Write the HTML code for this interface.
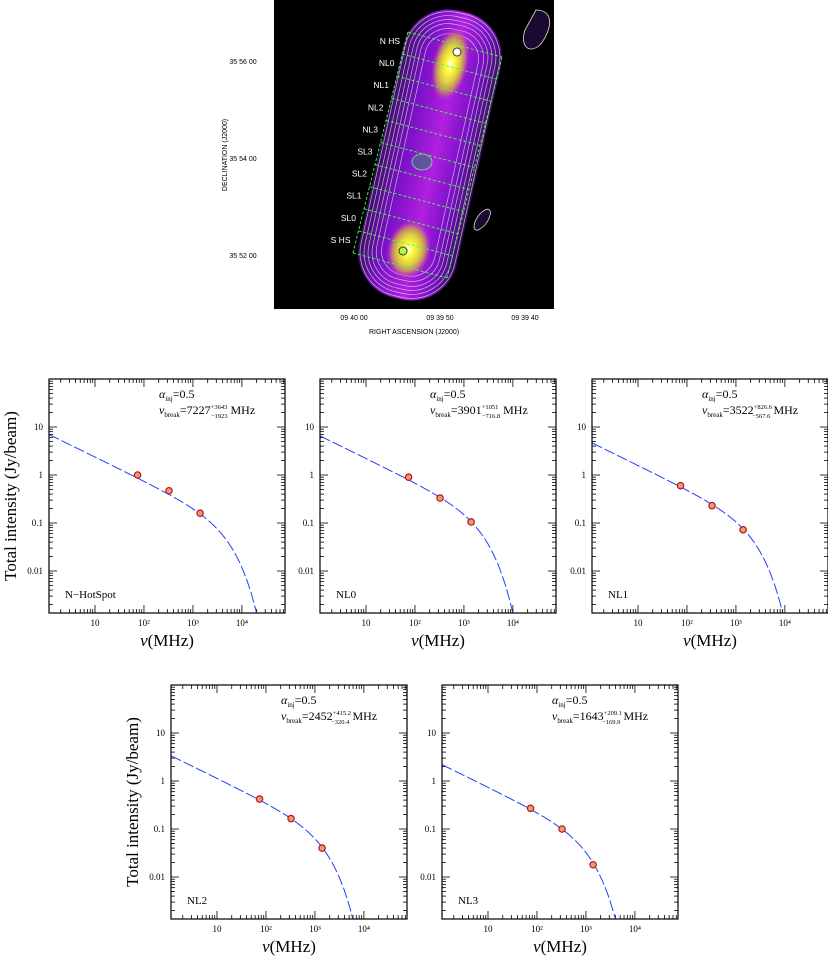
<!DOCTYPE html>
<html><head><meta charset="utf-8"><style>
body{margin:0;background:#fff;width:828px;height:956px;overflow:hidden}
svg{position:absolute;left:0;top:0}
.s{font-family:"Liberation Serif",serif}
.a{font-family:"Liberation Sans",sans-serif}
</style></head><body>
<svg id="fig" width="828" height="956">
<defs>
<linearGradient id="bg" x1="0" y1="0" x2="1" y2="0">
<stop offset="0" stop-color="#3a1060"/><stop offset="0.25" stop-color="#7a10c8"/><stop offset="0.55" stop-color="#b020e0"/><stop offset="0.8" stop-color="#7a10c8"/><stop offset="1" stop-color="#3a1060"/>
</linearGradient>
<radialGradient id="hs"><stop offset="0" stop-color="#fff"/><stop offset="0.2" stop-color="#ffff40"/><stop offset="0.5" stop-color="#e0d040"/><stop offset="0.75" stop-color="#c08070"/><stop offset="1" stop-color="#c020e0" stop-opacity="0"/></radialGradient>
</defs>
<g>
<rect x="274" y="0" width="280" height="309" fill="#000"/>
<g transform="rotate(12.6 430 155)">
<rect x="380" y="8" width="100" height="294" rx="46" fill="url(#bg)"/>
<g fill="none" stroke="#ddd" stroke-width="0.7" opacity="0.8">
<rect x="382" y="10" width="96" height="290" rx="44"/><rect x="386" y="14" width="88" height="282" rx="40"/><rect x="390" y="18" width="80" height="274" rx="36"/><rect x="394" y="22" width="72" height="266" rx="32"/><rect x="398" y="27" width="64" height="256" rx="28"/><rect x="403" y="32" width="54" height="246" rx="24"/>
</g>
<ellipse cx="430" cy="62" rx="18" ry="38" fill="url(#hs)"/>
<ellipse cx="430" cy="252" rx="22" ry="30" fill="url(#hs)"/>
</g>
<circle cx="457" cy="52" r="4" fill="#fff" stroke="#333"/>
<circle cx="403" cy="251" r="4" fill="#b0ff40" stroke="#333"/>
<ellipse cx="422" cy="162" rx="10" ry="8" fill="#4a6a8a" opacity="0.7" stroke="#8f8"/>
<path d="M536 10 C555 10 552 30 540 45 C528 55 520 45 525 30 Z" fill="#1a0a30" stroke="#ddd" stroke-width="0.8"/>
<path d="M485 210 C495 205 490 225 478 230 C470 232 475 215 485 210 Z" fill="#1a0a30" stroke="#ddd" stroke-width="0.8"/>
<g id="slices" stroke="#40ff40" stroke-width="0.9" stroke-dasharray="3 2" fill="none"></g>
<g id="slicelabels" class="a" font-size="8.5" fill="#fff" text-anchor="end"></g>
</g>
<g class="a" font-size="7" fill="#000">
<text x="243" y="64" text-anchor="middle">35 56 00</text>
<text x="243" y="161" text-anchor="middle">35 54 00</text>
<text x="243" y="258" text-anchor="middle">35 52 00</text>
<text transform="translate(227 155) rotate(-90)" text-anchor="middle">DECLINATION (J2000)</text>
<text x="354" y="320" text-anchor="middle">09 40 00</text>
<text x="440" y="320" text-anchor="middle">09 39 50</text>
<text x="525" y="320" text-anchor="middle">09 39 40</text>
<text x="414" y="334" text-anchor="middle">RIGHT ASCENSION (J2000)</text>
</g>
<g id="panels"></g>
</svg>
<script>
// Chart data
const regionNames = ["N\u2212HotSpot","NL0","NL1","NL2","NL3"];
const breakVals = ["7227","3901","3522","2452","1643"];
const breakPlus = ["+3643","+1051","+826.6","+415.2","+209.1"];
const breakMinus = ["\u22121923","\u2212716.8","\u2212567.6","\u2212320.4","\u2212169.9"];
const freqs = [74, 325, 1400];
const fluxNHS = [1.0, 0.47, 0.16];
const fluxNL0 = [0.9, 0.33, 0.105];
const fluxNL1 = [0.6, 0.23, 0.072];
const fluxNL2 = [0.42, 0.165, 0.04];
const fluxNL3 = [0.27, 0.10, 0.018];
const modelAmp = [7.5, 7.0, 5.0, 3.6, 2.35];
const modelCut = [5400, 2500, 2450, 1670, 1200];
const xTickVals = [10, 100, 1000, 10000];
const xTickLabels = ["10","10\u00B2","10\u00B3","10\u2074"];
const yTickVals = [10, 1, 0.1, 0.01];
const yTickLabels = ["10","1","0.1","0.01"];
const sliceLabels = ["N HS","NL0","NL1","NL2","NL3","SL3","SL2","SL1","SL0","S HS"];

const fluxes=[fluxNHS,fluxNL0,fluxNL1,fluxNL2,fluxNL3];
const NS="http://www.w3.org/2000/svg";
function mk(t,at,p){const e=document.createElementNS(NS,t);for(const k in at)e.setAttribute(k,at[k]);p.appendChild(e);return e;}

const sg=document.getElementById('slices'), sl=document.getElementById('slicelabels');
for(let i=0;i<=10;i++){
  const x=408-5.5*i,y=32+22.1*i;
  const ln=mk('line',{x1:x,y1:y,x2:x+94,y2:y+25},sg);
  
  
}
mk('line',{x1:408,y1:32,x2:353,y2:253},sg);
mk('line',{x1:502,y1:57,x2:447,y2:278},sg);
sliceLabels.forEach((s,i)=>{
  const t=mk('text',{x:400-5.5*i,y:44+22.1*i},sl);t.textContent=s;
  
  
});

const pos=[[49,379],[320,379],[592,379],[171,685],[442,685]];
const W=236,H=234, XL=Math.log10(1.15), XR=4.88, YT=2, YB=-2.875;
const root=document.getElementById('panels');
pos.forEach((p,i)=>{
  const g=mk('g',{transform:`translate(${p[0]},${p[1]})`},root);
  
  
  const X=v=>(Math.log10(v)-XL)/(XR-XL)*W;
  const Y=v=>(YT-Math.log10(v))/(YT-YB)*H;
  const tk=mk('g',{stroke:'#000','stroke-width':0.8},g);
  for(let d=0;d<=4;d++)for(let m=1;m<10;m++){
    const v=m*Math.pow(10,d);if(Math.log10(v)<XL||Math.log10(v)>XR)continue;
    const x=X(v),L=m==1?8:4;
    mk('line',{x1:x,y1:H,x2:x,y2:H-L},tk);mk('line',{x1:x,y1:0,x2:x,y2:L},tk);
  }
  for(let d=-3;d<=1;d++)for(let m=1;m<10;m++){
    const v=m*Math.pow(10,d);const lv=Math.log10(v);if(lv<YB||lv>YT)continue;
    const y=Y(v),L=m==1?8:4;
    mk('line',{x1:0,y1:y,x2:L,y2:y},tk);mk('line',{x1:W,y1:y,x2:W-L,y2:y},tk);
  }
  let d='';
  for(let k=0;k<=400;k++){
    const lv=XL+(XR-XL)*k/400, v=Math.pow(10,lv);
    const s=modelAmp[i]*Math.pow(v,-0.5)*Math.exp(-v/modelCut[i]);
    if(Math.log10(s)<YB){d+=`L${X(v).toFixed(1)},${H}`;break;}
    d+=(k?'L':'M')+X(v).toFixed(1)+','+Y(s).toFixed(1);
  }
  const c=mk('path',{d:d,fill:'none',stroke:'#2040ff','stroke-width':1,'stroke-dasharray':'11 3'},g);
  
  
  freqs.forEach((f,j)=>{
    const pt=mk('circle',{cx:X(f),cy:Y(fluxes[i][j]),r:3.2,fill:'#e0a070',stroke:'#c01020','stroke-width':1.2},g);
    
    
  });
  mk('rect',{x:0,y:0,width:W,height:H,fill:'none',stroke:'#000','stroke-width':1.2},g);
  const tl=mk('g',{class:'s','font-size':9,'text-anchor':'middle'},g);
  xTickVals.forEach((v,j)=>{const t=mk('text',{x:X(v),y:H+13},tl);t.textContent=xTickLabels[j];});
  yTickVals.forEach((v,j)=>{const t=mk('text',{x:-6,y:Y(v)+3,'text-anchor':'end'},tl);t.textContent=yTickLabels[j];});
  const xl=mk('text',{x:W/2,y:H+33,class:'s','font-size':17,'text-anchor':'middle'},g);
  xl.innerHTML='<tspan font-style="italic">\u03BD</tspan>(MHz)';
  
  
  if(i==0||i==3){
    const yl=mk('text',{transform:`translate(-33 ${H/2}) rotate(-90)`,class:'s','font-size':17,'text-anchor':'middle'},g);
    yl.textContent='Total intensity (Jy/beam)';
    
    
  }
  const a=mk('text',{x:110,y:19,class:'s','font-size':12},g);
  a.innerHTML='<tspan font-style="italic">\u03B1</tspan><tspan font-size="7" dy="3">inj</tspan><tspan dy="-3">=0.5</tspan>';
  
  
  const b=mk('text',{x:110,y:35,class:'s','font-size':12},g);
  b.innerHTML=`<tspan font-style="italic">\u03BD</tspan><tspan font-size="7" dy="3">break</tspan><tspan dy="-3">=${breakVals[i]}</tspan><tspan font-size="6.5" dy="-5">${breakPlus[i]}</tspan><tspan font-size="6.5" dx="-${(breakPlus[i].length*3.3).toFixed(1)}" dy="9">${breakMinus[i]}</tspan><tspan dy="-4"> MHz</tspan>`;
  
  
  const n=mk('text',{x:16,y:H-15,class:'s','font-size':11},g);
  n.textContent=regionNames[i];
  
  
});
</script>
</body></html>
